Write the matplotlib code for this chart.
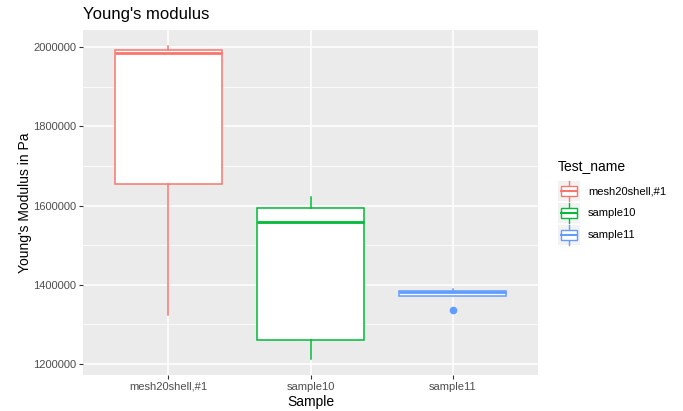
import matplotlib
matplotlib.use("Agg")
import matplotlib.pyplot as plt
from matplotlib.legend_handler import HandlerBase
from matplotlib.patches import Rectangle
from matplotlib.lines import Line2D
from matplotlib.ticker import MultipleLocator

plt.rcParams['font.family'] = ['Liberation Sans', 'DejaVu Sans']

# Data: box summary statistics per test sample
samples = ["mesh20shell,#1", "sample10", "sample11"]
colors = ["#F8766D", "#00BA38", "#619CFF"]
q1 = [1654500, 1261000, 1373000]
med = [1986000, 1558000, 1383000]
q3 = [1994000, 1593000, 1384500]
whislo = [1324000, 1212000, 1373000]
whishi = [2004000, 1621000, 1390500]
fliers = [[], [], [1337000]]
yticks = [1200000, 1400000, 1600000, 1800000, 2000000]

fig = plt.figure(figsize=(6.83, 4.11), dpi=100)
L, R, T, B = 83, 538, 30, 375
W, H = 683, 411
ax = fig.add_axes([L / W, (H - B) / H, (R - L) / W, (B - T) / H])
ax.set_facecolor("#EBEBEB")
for s in ax.spines.values():
    s.set_visible(False)

positions = [1, 2, 3]
stats = []
for i in range(len(samples)):
    stats.append(dict(q1=q1[i], med=med[i], q3=q3[i], whislo=whislo[i],
                      whishi=whishi[i], fliers=fliers[i], label=samples[i]))

for i, st in enumerate(stats):
    c = colors[i]
    ax.bxp([st], positions=[positions[i]], widths=0.75, patch_artist=True,
           showcaps=False,
           boxprops=dict(facecolor="white", edgecolor=c, linewidth=1.1),
           medianprops=dict(color=c, linewidth=2.0),
           whiskerprops=dict(color=c, linewidth=1.1),
           flierprops=dict(marker="o", markerfacecolor=c, markeredgecolor=c,
                           markersize=4.5),
           zorder=3)

# Axis limits with ggplot-style expansion
lo = min(min(whislo), min(min(f) for f in fliers if f))
hi = max(whishi)
pad = 0.05 * (hi - lo)
ax.set_ylim(lo - pad, hi + pad)
ax.set_xlim(0.4, 3.6)

ax.set_yticks(yticks)
ax.yaxis.set_minor_locator(MultipleLocator(100000))
ax.set_xticks(positions)
ax.set_xticklabels(samples)
ax.grid(which="major", color="white", linewidth=1.1, zorder=0)
ax.grid(which="minor", axis="y", color="white", linewidth=0.55, zorder=0)
ax.set_axisbelow(True)
ax.tick_params(axis="both", which="major", length=3, width=0.8,
               color="#333333", labelcolor="#4D4D4D", labelsize=8, pad=2)
ax.tick_params(axis="both", which="minor", length=0)
ax.ticklabel_format(axis="y", style="plain", useOffset=False)

ax.set_xlabel("Sample", fontsize=10, color="black", labelpad=2)
ax.set_ylabel("Young's Modulus in Pa", fontsize=10, color="black", labelpad=1)
fig.text(L / W, 1 - 14 / H, "Young's modulus", fontsize=12, va="center",
         ha="left", color="black")


class BoxKey(HandlerBase):
    def create_artists(self, legend, orig_handle, xdescent, ydescent,
                       width, height, fontsize, trans):
        c = orig_handle.get_color()
        bx, by = -xdescent, -ydescent
        bg = Rectangle((bx, by + 0.6), width, height - 1.2,
                       facecolor="#F2F2F2", edgecolor="none", transform=trans)
        x0 = bx + width * 0.14
        x1 = bx + width * 0.86
        y0 = by + height * 0.27
        y1 = by + height * 0.73
        ym = by + height * 0.5
        xm = bx + width * 0.5
        box = Rectangle((x0, y0), x1 - x0, y1 - y0, facecolor="white",
                        edgecolor=c, linewidth=1.0, transform=trans)
        mline = Line2D([x0, x1], [ym, ym], color=c, linewidth=1.5,
                       transform=trans)
        w1 = Line2D([xm, xm], [by + height * 0.05, y0], color=c,
                    linewidth=1.0, transform=trans)
        w2 = Line2D([xm, xm], [y1, by + height * 0.95], color=c,
                    linewidth=1.0, transform=trans)
        return [bg, w1, w2, box, mline]


handles = [Line2D([], [], color=c) for c in colors]
leg = fig.legend(handles, samples, handler_map={Line2D: BoxKey()},
                 loc="upper left", bbox_to_anchor=(558 / W, 1 - 159 / H),
                 frameon=False, title="Test_name", fontsize=8,
                 title_fontsize=10, handlelength=2.0, handleheight=2.67,
                 handletextpad=0.7, labelspacing=0.0, borderpad=0.0,
                 borderaxespad=0.0)
leg._legend_box.align = "left"
leg._legend_box.sep = 5

fig.savefig("out.png", dpi=100)
